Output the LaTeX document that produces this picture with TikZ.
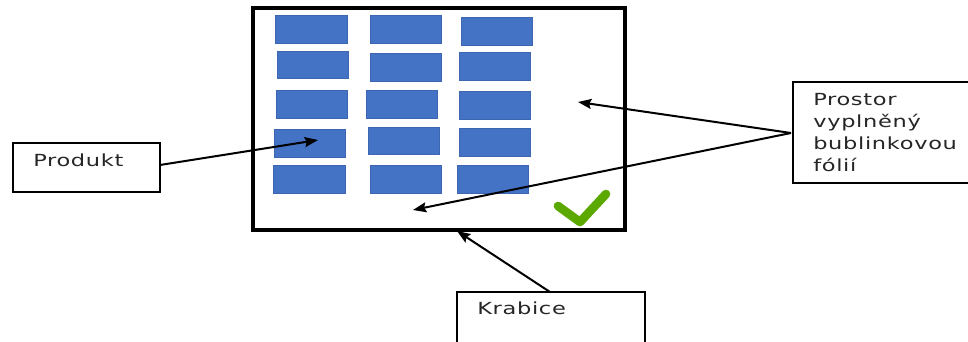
\documentclass[tikz,border=0pt]{standalone}
\usepackage{fontspec}
\usepackage{graphicx}
\newfontfamily\lblfont[LetterSpace=3]{DejaVu Sans}
\usetikzlibrary{arrows.meta,fit}
\definecolor{prodblue}{HTML}{4472C4}
\definecolor{prodedge}{HTML}{3D66B0}
\definecolor{okgreen}{HTML}{5BA800}
\newcommand{\wide}[1]{\scalebox{1.35}[1]{#1}}
\tikzset{
  prodbox/.style={draw=prodedge, fill=prodblue, line width=0.6pt, inner sep=0pt},
  labelbox/.style={draw=black, line width=1.1pt, inner sep=0pt},
  labeltext/.style={font=\lblfont\fontsize{12.5pt}{16.5pt}\selectfont, text=black!85, inner sep=0pt},
  pointer/.style={draw=black, line width=1.5pt, -{Stealth[length=10pt,width=7.5pt,inset=1.5pt]}},
}
\begin{document}
\begin{tikzpicture}[x=0.75pt,y=-0.75pt]
\useasboundingbox (0,0) rectangle (968,342);
\clip (0,0) rectangle (968,342);
\fill[white] (0,0) rectangle (968,342);
% box
\coordinate (b1) at (253,8);
\coordinate (b2) at (625,230);
\node[fit=(b1)(b2), draw=black, line width=2.4pt, inner sep=0pt] (box) {};
% products
\foreach \n/\xa/\ya/\xb/\yb in {
  p11/275/15/347/43, p12/370/15/441/43, p13/461/17/532/45,
  p21/277/51/348/78, p22/370/53/441/81, p23/459/52/530/80,
  p31/276/90/347/118, p32/366/90/437/118, p33/459/91/530/119,
  p41/274/129/345/157, p42/368/127/439/154, p43/459/128/530/156,
  p51/273/165/345/193, p52/370/165/441/193, p53/457/165/528/193}{
  \coordinate (\n a) at (\xa,\ya);
  \coordinate (\n b) at (\xb,\yb);
  \node[prodbox, fit=(\n a)(\n b)] (\n) {};
}
% check mark
\draw[okgreen, line width=6.5pt, line cap=round, line join=round] (558,206) -- (580,222) -- (606,194);
% label boxes
\coordinate (pr1) at (13,143); \coordinate (pr2) at (160,192);
\node[labelbox, fit=(pr1)(pr2)] (produkt) {};
\node[labeltext, anchor=base west] (produkttext) at (33,167) {\wide{Produkt}};

\coordinate (ps1) at (793,82); \coordinate (ps2) at (980,183);
\node[labelbox, fit=(ps1)(ps2)] (prostor) {};
\node[labeltext, anchor=base west] (prostortext) at (813,106) {\wide{\begin{tabular}[t]{@{}l@{}}Prostor\\vyplněný\\bublinkovou\\fólií\end{tabular}}};

\coordinate (kr1) at (457,292); \coordinate (kr2) at (645,360);
\node[labelbox, fit=(kr1)(kr2)] (krabice) {};
\node[labeltext, anchor=base west] (krabicetext) at (477,315) {\wide{Krabice}};

% arrow targets
\coordinate (tprod) at (318,140);
\coordinate (tspace1) at (578,102);
\coordinate (tspace2) at (413,210);
\coordinate (tbox) at (457,231);
\coordinate (prodstart) at (160,165);
\coordinate (prosstart) at (791,133);
\coordinate (krabstart) at (550,292);

\draw[pointer] (prodstart) -- (tprod);
\draw[pointer] (prosstart) -- (tspace1);
\draw[pointer] (prosstart) -- (tspace2);
\draw[pointer] (krabstart) -- (tbox);
\end{tikzpicture}
\end{document}
